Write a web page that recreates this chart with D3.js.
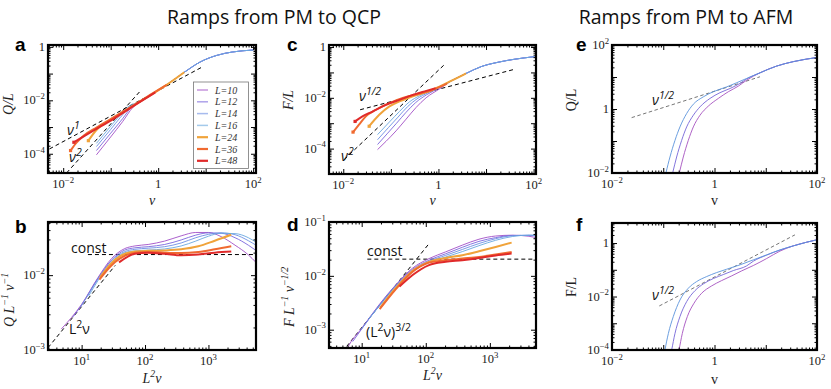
<!DOCTYPE html>
<html>
<head>
<script src="https://cdnjs.cloudflare.com/ajax/libs/d3/7.8.5/d3.min.js"></script>
<style>
  body { margin: 0; background: #fff; }
  svg { display: block; }
  .tick-label { font-family: "Liberation Serif", "Times New Roman", serif; font-size: 12.5px; fill: #222; }
  .axis-title { font-family: "Liberation Serif", "Times New Roman", serif; font-size: 14px; fill: #222; }
  .title { font-family: "Open Sans", sans-serif; font-size: 19.5px; fill: #111; }
  .letter { font-family: "Liberation Sans", Arial, sans-serif; font-size: 19px; font-weight: 700; fill: #000; }
  .note { font-family: "Open Sans", sans-serif; font-size: 14px; fill: #111; }
  .legend-text { font-family: "Liberation Serif", serif; font-size: 10px; font-style: italic; fill: #333; }
  .frame { fill: none; stroke: #000; stroke-width: 2.2; }
  .tick line { stroke: #000; }
  .domain { display: none; }
</style>
</head>
<body>
<div id="chart"></div>
<script>
// ---- data (all values are log10 of the plotted quantity) ----
const sizes = [10, 12, 14, 16, 24, 36, 48];

// panel a: Q/L vs v
const qTail = [[-0.35,-2.03],[-0.1,-1.74],[0.13,-1.48],[0.55,-0.95],[0.88,-0.57],[1.23,-0.32],[1.57,-0.19],[2.0,-0.12]];
const qOverL = [
  [[-1.30,-4.04],[-1.0,-3.37],[-0.75,-2.80],[-0.53,-2.26]].concat(qTail),
  [[-1.30,-3.88],[-1.0,-3.23],[-0.75,-2.69],[-0.57,-2.27]].concat(qTail),
  [[-1.30,-3.73],[-1.0,-3.09],[-0.8,-2.65],[-0.60,-2.26]].concat(qTail),
  [[-1.30,-3.61],[-1.0,-2.97],[-0.8,-2.55],[-0.64,-2.25]].concat(qTail),
  [[-1.47,-3.51],[-1.30,-3.11],[-1.1,-2.83],[-0.95,-2.66],[-0.7,-2.40],[-0.5,-2.17],[-0.2,-1.85],[0.13,-1.48],[0.55,-0.95]],
  [[-1.845,-3.88],[-1.72,-3.58],[-1.55,-3.30],[-1.3,-3.02],[-1.0,-2.70],[-0.7,-2.38],[-0.4,-2.06],[-0.1,-1.72],[0.18,-1.42]],
  [[-1.775,-3.57],[-1.55,-3.33],[-1.3,-3.07],[-1.0,-2.76],[-0.7,-2.42],[-0.4,-2.08],[-0.06,-1.70]]
];

// panel b: Q L^-1 v^-1 vs L^2 v
const qScaled = [
  [[0.68,-2.72],[1.0,-2.39],[1.26,-2.03],[1.47,-1.78],[1.68,-1.645],[1.84,-1.61],[2.05,-1.59],[2.31,-1.545],[2.57,-1.475],[2.8,-1.43],[3.0,-1.43],[3.2,-1.485],[3.42,-1.60],[3.63,-1.73],[3.75,-1.83]],
  [[0.86,-2.56],[1.0,-2.40],[1.26,-2.04],[1.47,-1.80],[1.68,-1.665],[1.84,-1.635],[2.05,-1.62],[2.31,-1.59],[2.57,-1.53],[2.8,-1.465],[3.0,-1.435],[3.2,-1.44],[3.42,-1.50],[3.63,-1.60],[3.75,-1.67]],
  [[0.99,-2.42],[1.26,-2.05],[1.47,-1.81],[1.68,-1.685],[1.84,-1.655],[2.05,-1.64],[2.31,-1.62],[2.57,-1.57],[2.8,-1.50],[3.0,-1.455],[3.2,-1.435],[3.42,-1.46],[3.63,-1.54],[3.75,-1.60]],
  [[1.11,-2.28],[1.26,-2.07],[1.47,-1.83],[1.68,-1.70],[1.84,-1.675],[2.05,-1.665],[2.31,-1.65],[2.57,-1.61],[2.8,-1.545],[3.0,-1.48],[3.2,-1.44],[3.42,-1.445],[3.63,-1.50],[3.75,-1.56]],
  [[1.29,-2.03],[1.47,-1.84],[1.6,-1.75],[1.84,-1.685],[2.05,-1.675],[2.31,-1.67],[2.57,-1.655],[2.84,-1.615],[3.1,-1.54],[3.36,-1.46]],
  [[1.28,-2.06],[1.47,-1.87],[1.6,-1.78],[1.84,-1.70],[2.05,-1.69],[2.31,-1.70],[2.57,-1.705],[2.84,-1.69],[3.1,-1.655],[3.36,-1.615]],
  [[1.59,-1.83],[1.84,-1.715],[2.05,-1.70],[2.31,-1.715],[2.57,-1.735],[2.84,-1.725],[3.1,-1.70],[3.36,-1.685]]
];

// panel c: F/L vs v
const fTail = [[0.3,-1.30],[0.58,-1.04],[0.9,-0.77],[1.25,-0.60],[1.6,-0.48],[2.02,-0.38]];
const fOverL = [
  [[-1.28,-4.04],[-1.10,-3.71],[-0.89,-3.30],[-0.68,-2.84],[-0.47,-2.38],[-0.26,-2.0],[0.03,-1.64]].concat(fTail),
  [[-1.28,-3.84],[-1.08,-3.42],[-0.88,-3.0],[-0.68,-2.57],[-0.48,-2.19],[-0.25,-1.88],[0.03,-1.60]].concat(fTail),
  [[-1.28,-3.65],[-1.05,-3.17],[-0.85,-2.76],[-0.65,-2.35],[-0.45,-2.04],[-0.22,-1.80],[0.03,-1.57]].concat(fTail),
  [[-1.28,-3.45],[-1.03,-2.95],[-0.82,-2.54],[-0.61,-2.16],[-0.4,-1.92],[-0.18,-1.73],[0.03,-1.55]].concat(fTail),
  [[-1.456,-3.12],[-1.244,-2.67],[-1.03,-2.34],[-0.82,-2.14],[-0.61,-1.99],[-0.4,-1.86],[-0.18,-1.73],[0.03,-1.55],[0.3,-1.30],[0.58,-1.04]],
  [[-1.795,-3.35],[-1.67,-3.06],[-1.526,-2.73],[-1.314,-2.47],[-1.03,-2.21],[-0.75,-2.01],[-0.467,-1.86],[-0.184,-1.72],[0.03,-1.57],[0.18,-1.44]],
  [[-1.752,-2.93],[-1.597,-2.73],[-1.385,-2.54],[-1.103,-2.275],[-0.82,-2.08],[-0.537,-1.883],[-0.255,-1.726],[-0.06,-1.62]]
];

// panel d: F L^-1 v^-1/2 vs L^2 v
const fScaled = [
  [[0.68,-3.62],[0.775,-3.35],[1.01,-2.96],[1.27,-2.54],[1.53,-2.17],[1.79,-1.86],[2.05,-1.68],[2.31,-1.555],[2.57,-1.43],[2.83,-1.32],[3.09,-1.26],[3.35,-1.245],[3.61,-1.265],[3.75,-1.30]],
  [[0.86,-3.22],[1.01,-2.97],[1.27,-2.55],[1.53,-2.18],[1.79,-1.88],[2.05,-1.71],[2.31,-1.59],[2.57,-1.47],[2.83,-1.36],[3.09,-1.29],[3.35,-1.25],[3.61,-1.25],[3.75,-1.26]],
  [[0.99,-3.0],[1.27,-2.56],[1.53,-2.19],[1.79,-1.9],[2.05,-1.73],[2.31,-1.62],[2.57,-1.51],[2.83,-1.40],[3.09,-1.31],[3.35,-1.255],[3.61,-1.245],[3.75,-1.25]],
  [[1.11,-2.8],[1.27,-2.57],[1.53,-2.2],[1.79,-1.92],[2.05,-1.75],[2.31,-1.65],[2.57,-1.55],[2.83,-1.44],[3.09,-1.34],[3.35,-1.27],[3.61,-1.245],[3.75,-1.245]],
  [[1.29,-2.59],[1.53,-2.23],[1.79,-1.91],[2.05,-1.74],[2.31,-1.667],[2.57,-1.617],[2.83,-1.543],[3.09,-1.463],[3.34,-1.383]],
  [[1.28,-2.62],[1.53,-2.25],[1.79,-1.93],[2.05,-1.755],[2.31,-1.71],[2.57,-1.68],[2.83,-1.65],[3.09,-1.605],[3.34,-1.556]],
  [[1.59,-2.2],[1.79,-1.99],[2.05,-1.80],[2.31,-1.74],[2.57,-1.71],[2.83,-1.67],[3.09,-1.62],[3.34,-1.585]]
];

// panels e, f: ramps to the AFM phase (three sizes)
const afmTailQ = [[0.887,1.13],[1.21,1.34],[1.538,1.48],[2.0,1.61]];
const afmQ = [
  [[-0.75,-2.4],[-0.687,-2.0],[-0.609,-1.50],[-0.511,-0.98],[-0.413,-0.56],[-0.283,-0.195],[-0.121,0.09],[0.074,0.33],[0.27,0.54],[0.465,0.715],[0.627,0.90]].concat(afmTailQ),
  [[-0.88,-2.4],[-0.817,-2.0],[-0.739,-1.50],[-0.641,-0.98],[-0.543,-0.56],[-0.413,-0.195],[-0.283,0.067],[-0.088,0.33],[0.107,0.51],[0.302,0.64],[0.497,0.80],[0.627,0.94]].concat(afmTailQ),
  [[-1.0,-2.4],[-0.947,-2.0],[-0.869,-1.50],[-0.771,-0.98],[-0.674,-0.56],[-0.543,-0.14],[-0.413,0.15],[-0.218,0.38],[-0.023,0.54],[0.237,0.69],[0.432,0.82],[0.627,0.955]].concat(afmTailQ)
];
const afmTailF = [[1.538,-0.105],[1.798,0.032],[1.993,0.12]];
const afmF = [
  [[-0.74,-4.4],[-0.693,-4.0],[-0.628,-3.38],[-0.53,-2.75],[-0.4,-2.25],[-0.251,-1.878],[-0.056,-1.603],[0.14,-1.403],[0.335,-1.228],[0.53,-1.041],[0.757,-0.841],[1.017,-0.58],[1.278,-0.3]].concat(afmTailF),
  [[-0.88,-4.4],[-0.836,-4.0],[-0.771,-3.38],[-0.674,-2.75],[-0.543,-2.19],[-0.381,-1.78],[-0.218,-1.528],[-0.023,-1.328],[0.172,-1.178],[0.367,-1.029],[0.627,-0.854],[0.757,-0.68],[1.017,-0.452],[1.278,-0.262]].concat(afmTailF),
  [[-1.0,-4.4],[-0.966,-4.0],[-0.9,-3.38],[-0.804,-2.75],[-0.674,-2.13],[-0.511,-1.69],[-0.348,-1.44],[-0.153,-1.253],[0.042,-1.104],[0.237,-0.979],[0.497,-0.816],[0.757,-0.629],[1.017,-0.442],[1.278,-0.255]].concat(afmTailF)
];

// dashed guide lines (log10 endpoints)
const guidesA = [[[-2.29,-3.82],[0.91,-0.77]], [[-1.93,-4.72],[-0.39,-1.68]]];
const guidesB = [[[1.10,-1.725],[3.75,-1.725]], [[0.47,-2.97],[1.53,-1.87]]];
const guidesC = [[[-1.646,-2.47],[1.6,-0.876]], [[-1.98,-4.43],[0.155,-0.64]]];
const guidesD = [[[1.088,-1.69],[3.72,-1.69]], [[0.766,-3.31],[2.056,-1.394]]];
const guidesE = [[[-1.617,-0.27],[0.887,1.007]]];
const guidesF = [[[-1.077,-2.352],[1.57,0.307]]];

// ---- styles ----
const colors = ["#a24fc6", "#7a66dd", "#6d8fe3", "#69a7df", "#f0a33a", "#f06a30", "#e02a2a"];
const widths = [1, 1, 1, 1, 2, 2, 2];
const afmColors = ["#a552c0", "#7566d8", "#5b93dc"];

const svg = d3.select("#chart").append("svg").attr("width", 831).attr("height", 389);

// text with ^{...} superscripts
function rich(sel, str, size) {
  const parts = str.split(/(\^\{[^}]*\})/).filter(s => s.length);
  let raised = false;
  parts.forEach(p => {
    const isSup = p.startsWith("^{");
    const t = sel.append("tspan").text(isSup ? p.slice(2, -1) : p);
    if (isSup) {
      t.attr("font-size", size * 0.7).attr("dy", raised ? 0 : -size * 0.42);
      raised = true;
    } else {
      t.attr("dy", raised ? size * 0.42 : 0);
      raised = false;
    }
  });
}
function powLabel(e) { return e === 0 ? "1" : "10^{" + String(e).replace("-", "−") + "}"; }

// titles
svg.append("text").attr("class", "title").attr("x", 274).attr("y", 24).attr("text-anchor", "middle").text("Ramps from PM to QCP");
svg.append("text").attr("class", "title").attr("x", 686).attr("y", 24).attr("text-anchor", "middle").text("Ramps from PM to AFM");

const panels = [
  {key: "a", box: [48, 45, 256, 173], xe: [-2.32, 2.06], ye: [-4.72, 0.07], xt: [-2, 0, 2], yt: [0, -2, -4],
   series: qOverL, guides: guidesA, letter: [15, 51], xlab: "ν", ylab: "Q/L", ylabPos: [13, 104], italic: true, xlabY: 205, markers: true},
  {key: "b", box: [48, 222, 256, 350], xe: [0.47, 3.75], ye: [-3, -1.29], xt: [1, 2, 3], yt: [-2, -3],
   series: qScaled, guides: guidesB, letter: [15, 233], xlab: "L^{2}ν", ylab: "Q  L^{−1} ν^{−1}", ylabPos: [14, 300], italic: true, xlabY: 383},
  {key: "c", box: [329, 45, 536, 174], xe: [-2.3, 2.05], ye: [-5, 0.08], xt: [-2, 0, 2], yt: [0, -2, -4],
   series: fOverL, guides: guidesC, letter: [287, 51], xlab: "ν", ylab: "F/L", ylabPos: [293, 100], italic: true, xlabY: 205, markers: true},
  {key: "d", box: [329, 222, 536, 348], xe: [0.49, 3.72], ye: [-3.34, -1], xt: [1, 2, 3], yt: [-1, -2, -3],
   series: fScaled, guides: guidesD, letter: [287, 231], xlab: "L^{2}ν", ylab: "F  L^{−1} ν^{−1/2}", ylabPos: [294, 297], italic: true, xlabY: 380},
  {key: "e", box: [612, 45, 817, 173], xe: [-2, 2], ye: [-2, 2], xt: [-2, 0, 2], yt: [2, 0, -2],
   series: afmQ, guides: guidesE, letter: [576, 51], xlab: "v", ylab: "Q/L", ylabPos: [576, 100], italic: false, xlabY: 205, afm: true},
  {key: "f", box: [612, 223, 817, 350], xe: [-2, 2], ye: [-4, 0.75], xt: [-2, 0, 2], yt: [0, -2, -4],
   series: afmF, guides: guidesF, letter: [576, 231], xlab: "v", ylab: "F/L", ylabPos: [576, 287], italic: false, xlabY: 384, afm: true}
];

function minorTicks(lo, hi) {
  const out = [];
  for (let e = Math.floor(lo); e <= Math.ceil(hi); e++)
    for (let k = 2; k <= 9; k++) {
      const v = Math.log10(k) + e;
      if (v > lo && v < hi) out.push(Math.pow(10, v));
    }
  return out;
}
function majorTicks(lo, hi) {
  const out = [];
  for (let e = Math.ceil(lo); e <= Math.floor(hi); e++) out.push(Math.pow(10, e));
  return out;
}

panels.forEach(p => {
  const [x0, y0, x1, y1] = p.box;
  const x = d3.scaleLog().domain([10 ** p.xe[0], 10 ** p.xe[1]]).range([x0, x1]);
  const y = d3.scaleLog().domain([10 ** p.ye[0], 10 ** p.ye[1]]).range([y1, y0]);
  const g = svg.append("g");

  const clipId = "clip-" + p.key;
  svg.append("clipPath").attr("id", clipId).append("rect")
    .attr("x", x0).attr("y", y0).attr("width", x1 - x0).attr("height", y1 - y0);
  const plot = g.append("g").attr("clip-path", `url(#${clipId})`);

  const line = d3.line().x(d => x(10 ** d[0])).y(d => y(10 ** d[1])).curve(d3.curveMonotoneX);

  // dashed guides
  p.guides.forEach(gd => {
    plot.append("path").attr("d", line(gd)).attr("fill", "none")
      .attr("stroke", p.afm ? "#666" : "#000").attr("stroke-width", p.afm ? 0.9 : 1)
      .attr("stroke-dasharray", p.afm ? "3.5,2.5" : "4,3");
  });

  // series
  p.series.forEach((s, i) => {
    const col = p.afm ? afmColors[i] : colors[i];
    const w = p.afm ? 1 : widths[i];
    plot.append("path").attr("d", line(s)).attr("fill", "none")
      .attr("stroke", col).attr("stroke-width", w).attr("stroke-linejoin", "round")
      .attr("opacity", w === 1 ? 0.9 : 1);
    if (p.markers && i >= 4) {
      plot.append("rect").attr("x", x(10 ** s[0][0]) - 1.6).attr("y", y(10 ** s[0][1]) - 1.6)
        .attr("width", 3.2).attr("height", 3.2).attr("fill", col);
    }
  });

  // ticks on all four sides, pointing inward
  const xMaj = majorTicks(p.xe[0], p.xe[1]), xMin = minorTicks(p.xe[0], p.xe[1]);
  const yMaj = majorTicks(p.ye[0], p.ye[1]), yMin = minorTicks(p.ye[0], p.ye[1]);
  [[xMaj, 5], [xMin, 2.5]].forEach(([vals, len]) => {
    g.append("g").attr("transform", `translate(0,${y1})`)
      .call(d3.axisBottom(x).tickValues(vals).tickSize(-len).tickFormat(""));
    g.append("g").attr("transform", `translate(0,${y0})`)
      .call(d3.axisTop(x).tickValues(vals).tickSize(-len).tickFormat(""));
  });
  [[yMaj, 5], [yMin, 2.5]].forEach(([vals, len]) => {
    g.append("g").attr("transform", `translate(${x0},0)`)
      .call(d3.axisLeft(y).tickValues(vals).tickSize(-len).tickFormat(""));
    g.append("g").attr("transform", `translate(${x1},0)`)
      .call(d3.axisRight(y).tickValues(vals).tickSize(-len).tickFormat(""));
  });

  g.append("rect").attr("class", "frame").attr("x", x0).attr("y", y0)
    .attr("width", x1 - x0).attr("height", y1 - y0);

  // tick labels
  p.xt.forEach(e => {
    const t = g.append("text").attr("class", "tick-label").attr("text-anchor", "middle")
      .attr("x", x(10 ** e)).attr("y", y1 + 15);
    rich(t, powLabel(e), 12.5);
  });
  p.yt.forEach(e => {
    const t = g.append("text").attr("class", "tick-label").attr("text-anchor", "end")
      .attr("x", x0 - 3).attr("y", y(10 ** e) + 4);
    rich(t, powLabel(e), 12.5);
  });

  // axis titles
  const xt = g.append("text").attr("class", "axis-title").attr("text-anchor", "middle")
    .attr("x", (x0 + x1) / 2).attr("y", p.xlabY).attr("font-style", p.italic ? "italic" : "normal");
  rich(xt, p.xlab, 14);
  const yt = g.append("text").attr("class", "axis-title").attr("text-anchor", "middle")
    .attr("transform", `translate(${p.ylabPos[0]},${p.ylabPos[1]}) rotate(-90)`)
    .attr("font-style", p.italic ? "italic" : "normal");
  rich(yt, p.ylab, 14);

  g.append("text").attr("class", "letter").attr("x", p.letter[0]).attr("y", p.letter[1]).text(p.key);
});

// annotations
function note(xp, yp, str, size) {
  const t = svg.append("text").attr("class", "note").attr("x", xp).attr("y", yp)
    .attr("font-size", size);
  rich(t, str, size);
  return t;
}
[[67, 135, "ν^{1}"], [69, 162, "ν^{2}"], [359, 101, "ν^{1/2}"], [341, 161, "ν^{2}"],
 [652, 105, "ν^{1/2}"], [652, 300, "ν^{1/2}"]].forEach(([a, b, s]) => note(a, b, s, 15).attr("font-style", "italic"));
note(71, 253, "const", 14.5);
note(367, 256, "const", 14.5);
note(69, 334, "L^{2}ν", 15);
note(366, 337, "(L^{2}ν)^{3/2}", 15);

// legend in panel a
const lg = svg.append("g");
lg.append("rect").attr("x", 193.5).attr("y", 82).attr("width", 55).attr("height", 86.5)
  .attr("fill", "#fff").attr("stroke", "#777").attr("stroke-width", 0.8);
sizes.forEach((L, i) => {
  const yy = 90 + i * 11.8;
  lg.append("line").attr("x1", 197).attr("x2", 208).attr("y1", yy).attr("y2", yy)
    .attr("stroke", colors[i]).attr("stroke-width", widths[i] === 1 ? 1.5 : 2.2)
    .attr("opacity", widths[i] === 1 ? 0.6 : 1);
  lg.append("text").attr("class", "legend-text").attr("x", 215).attr("y", yy + 3.5).text("L=" + L);
});
</script>
</body>
</html>
